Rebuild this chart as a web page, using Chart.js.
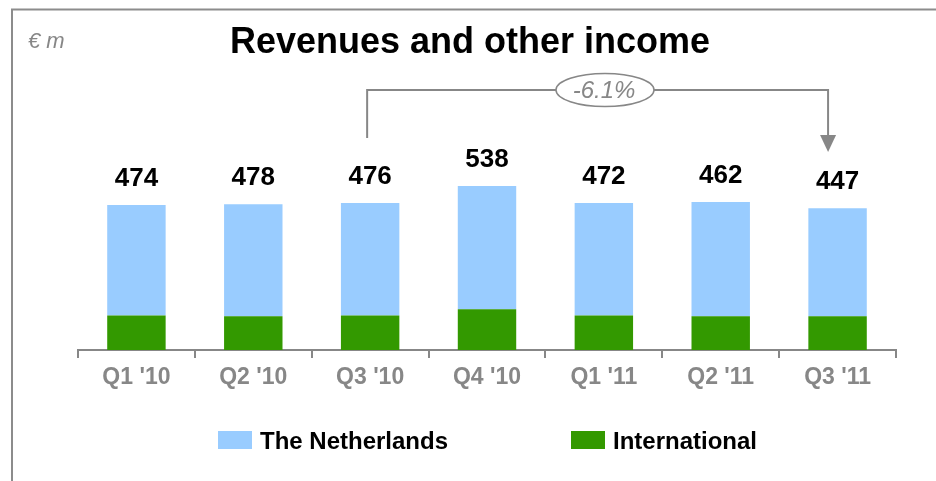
<!DOCTYPE html>
<html>
<head>
<meta charset="utf-8">
<script src="https://cdn.jsdelivr.net/npm/chart.js@4/dist/chart.umd.min.js"></script>
<style>
  body { margin: 0; background: #fff; }
  canvas { display: block; }
</style>
</head>
<body>
<canvas id="revChart" width="936" height="481"></canvas>
<script>
// DATA
const quarters = ["Q1 '10", "Q2 '10", "Q3 '10", "Q4 '10", "Q1 '11", "Q2 '11", "Q3 '11"];
const totals = [474, 478, 476, 538, 472, 462, 447];          // labels printed above bars
const netherlands = [362, 368, 369, 405, 369, 375, 355];     // light blue part
const international = [113, 110, 113, 133, 113, 110, 110];   // green part
const changeLabel = "-6.1%";
const unitLabel = "€ m";
const titleText = "Revenues and other income";

const GREY = "#878787";
const FONT = "'Liberation Sans', Arial, sans-serif";

// frame, title, unit, total labels, bracket, legend
const decorations = {
  id: "decorations",
  afterDraw(chart) {
    const ctx = chart.ctx;
    const x = chart.scales.x;
    const top = chart.getDatasetMeta(1);
    ctx.save();

    // frame (top + left)
    ctx.strokeStyle = "#8c8c8c";
    ctx.lineWidth = 2;
    ctx.beginPath();
    ctx.moveTo(12, 481);
    ctx.lineTo(12, 9.5);
    ctx.lineTo(936, 9.5);
    ctx.stroke();

    // unit + title
    ctx.fillStyle = GREY;
    ctx.font = "italic 22px " + FONT;
    ctx.textAlign = "left";
    ctx.textBaseline = "alphabetic";
    ctx.fillText(unitLabel, 28, 48);

    ctx.fillStyle = "#000";
    ctx.font = "bold 36px " + FONT;
    ctx.textAlign = "center";
    ctx.fillText(titleText, 470, 53);

    // totals above the stacks
    ctx.font = "bold 26px " + FONT;
    top.data.forEach((bar, i) => {
      ctx.fillText(String(totals[i]), bar.x, bar.y - 19);
    });

    // bracket Q3 '10 -> Q3 '11
    const x1 = x.getPixelForValue(2) - 3;
    const x2 = x.getPixelForValue(6) - 9.5;
    ctx.strokeStyle = GREY;
    ctx.lineWidth = 2;
    ctx.beginPath();
    ctx.moveTo(x1, 138);
    ctx.lineTo(x1, 90);
    ctx.lineTo(x2, 90);
    ctx.lineTo(x2, 136);
    ctx.stroke();
    ctx.fillStyle = GREY;
    ctx.beginPath();
    ctx.moveTo(x2 - 8, 135);
    ctx.lineTo(x2 + 8, 135);
    ctx.lineTo(x2, 152);
    ctx.closePath();
    ctx.fill();

    // ellipse with change
    ctx.fillStyle = "#fff";
    ctx.lineWidth = 1.5;
    ctx.beginPath();
    ctx.ellipse(605, 90, 49, 16.5, 0, 0, Math.PI * 2);
    ctx.fill();
    ctx.stroke();
    ctx.fillStyle = GREY;
    ctx.font = "italic 24px " + FONT;
    ctx.textBaseline = "middle";
    ctx.fillText(changeLabel, 604, 91);

    // legend: The Netherlands left, International right
    const items = [
      { ds: chart.data.datasets[1], bx: 218 },
      { ds: chart.data.datasets[0], bx: 571 },
    ];
    ctx.font = "bold 24px " + FONT;
    ctx.textAlign = "left";
    ctx.textBaseline = "alphabetic";
    items.forEach((it) => {
      ctx.fillStyle = it.ds.backgroundColor;
      ctx.fillRect(it.bx, 431, 34, 18);
      ctx.fillStyle = "#000";
      ctx.fillText(it.ds.label, it.bx + 42, 449);
    });

    ctx.restore();
  },
};

const revChart = new Chart(document.getElementById("revChart"), {
  type: "bar",
  data: {
    labels: quarters,
    datasets: [
      {
        label: "International",
        data: international,
        backgroundColor: "#339900",
      },
      {
        label: "The Netherlands",
        data: netherlands,
        backgroundColor: "#99ccff",
      },
    ],
  },
  options: {
    responsive: false,
    animation: false,
    layout: {
      padding: { left: 78, right: 40, top: 167, bottom: 83.5 },
    },
    datasets: {
      bar: {
        categoryPercentage: 1,
        barPercentage: 0.5,
        borderWidth: 0,
      },
    },
    plugins: {
      legend: { display: false },
      tooltip: { enabled: false },
    },
    scales: {
      x: {
        stacked: true,
        grid: {
          drawOnChartArea: false,
          color: GREY,
          lineWidth: 2,
          tickLength: 8,
        },
        border: { color: GREY, width: 2 },
        ticks: {
          color: GREY,
          padding: 6,
          font: { family: FONT, size: 23, weight: "bold" },
        },
      },
      y: {
        stacked: true,
        display: false,
        min: 0,
        max: 600,
      },
    },
  },
  plugins: [decorations],
});
</script>
</body>
</html>
